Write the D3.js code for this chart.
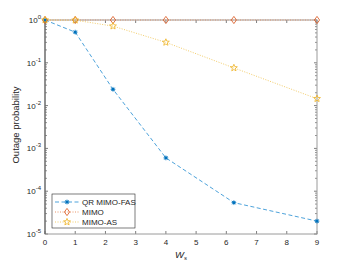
<!DOCTYPE html>
<html>
<head>
<meta charset="utf-8">
<script src="https://cdn.jsdelivr.net/npm/d3@7"></script>
<style>
  body { margin: 0; background: #fff; }
  text { font-family: "Liberation Sans", Arial, sans-serif; fill: #262626; }
</style>
</head>
<body>
<svg id="chart" width="350" height="264"></svg>
<script>
// chart data
const wsValues = [0, 1, 2.25, 4, 6.25, 9];
const qrMimoFas = [1, 0.52, 0.024, 6.0e-4, 5.4e-5, 2.0e-5];
const mimo = [1, 1, 1, 1, 1, 1];
const mimoAs = [1, 0.99, 0.72, 0.30, 0.076, 0.0145];
const xTicks = [0, 1, 2, 3, 4, 5, 6, 7, 8, 9];
const yExponents = [0, -1, -2, -3, -4, -5];
const seriesNames = ['QR MIMO-FAS', 'MIMO', 'MIMO-AS'];

const margin = {left: 45, right: 33, top: 20, bottom: 30};
const width = 350, height = 264;
const iw = width - margin.left - margin.right,
      ih = height - margin.top - margin.bottom;

const svg = d3.select('#chart');
const g = svg.append('g').attr('transform', `translate(${margin.left},${margin.top})`);

const x = d3.scaleLinear().domain([0, 9]).range([0, iw]);
const y = d3.scaleLog().domain([1e-5, 1]).range([ih, 0]);

const axisColor = '#262626';

// minor y ticks (2..9 in each decade)
const minor = [];
for (let e = -5; e < 0; e++) {
    for (let m = 2; m <= 9; m++) minor.push(m * Math.pow(10, e));
}

// ticks, inward, left + right
minor.forEach(v => {
    [[0, 2], [iw, iw - 2]].forEach(([a, b]) => {
        g.append('line').attr('x1', a).attr('x2', b)
            .attr('y1', y(v)).attr('y2', y(v))
            .attr('stroke', axisColor).attr('stroke-width', 0.5);
    });
});
yExponents.forEach(e => {
    const v = Math.pow(10, e);
    [[0, 3], [iw, iw - 3]].forEach(([a, b]) => {
        g.append('line').attr('x1', a).attr('x2', b)
            .attr('y1', y(v)).attr('y2', y(v))
            .attr('stroke', axisColor).attr('stroke-width', 0.6);
    });
    const t = g.append('text').attr('x', -4).attr('y', y(v) + 3)
        .attr('text-anchor', 'end').attr('font-size', 8);
    t.append('tspan').text('10');
    t.append('tspan').attr('dy', -4).attr('font-size', 6).text(e);
});

// x ticks, bottom + top
xTicks.forEach(v => {
    [[ih, ih - 3], [0, 3]].forEach(([a, b]) => {
        g.append('line').attr('x1', x(v)).attr('x2', x(v))
            .attr('y1', a).attr('y2', b)
            .attr('stroke', axisColor).attr('stroke-width', 0.6);
    });
    g.append('text').attr('x', x(v)).attr('y', ih + 11)
        .attr('text-anchor', 'middle').attr('font-size', 8).text(v);
});

// box
g.append('rect').attr('x', 0).attr('y', 0).attr('width', iw).attr('height', ih)
    .attr('fill', 'none').attr('stroke', '#9a9a9a').attr('stroke-width', 1);
g.append('line').attr('x1', 0).attr('x2', 0).attr('y1', 0).attr('y2', ih)
    .attr('stroke', '#555').attr('stroke-width', 1);

// axis labels
const xl = g.append('text').attr('x', iw / 2).attr('y', ih + 24)
    .attr('text-anchor', 'middle').attr('font-size', 9.5)
    .attr('font-family', '"Liberation Serif", serif').attr('font-style', 'italic');
xl.append('tspan').text('W');
xl.append('tspan').attr('dy', 2).attr('font-size', 6).text('s');

g.append('text').attr('transform', `translate(-26,${ih / 2 - 2}) rotate(-90)`)
    .attr('text-anchor', 'middle').attr('font-size', 9.5).text('Outage probability');

// marker drawers
function asterisk(sel, cx, cy, color) {
    const r = 2.4, d = r * 0.72;
    const p = `M${cx - r},${cy}L${cx + r},${cy}M${cx},${cy - r}L${cx},${cy + r}` +
              `M${cx - d},${cy - d}L${cx + d},${cy + d}M${cx - d},${cy + d}L${cx + d},${cy - d}`;
    sel.append('path').attr('d', p).attr('stroke', color).attr('stroke-width', 0.8).attr('fill', 'none');
    sel.append('rect').attr('x', cx - 1.3).attr('y', cy - 1.3).attr('width', 2.6).attr('height', 2.6)
        .attr('fill', color);
}
function diamond(sel, cx, cy, color) {
    sel.append('path').attr('d', `M${cx},${cy - 3.6}L${cx + 2.6},${cy}L${cx},${cy + 3.6}L${cx - 2.6},${cy}Z`)
        .attr('fill', 'none').attr('stroke', color).attr('stroke-width', 0.8);
}
function star(sel, cx, cy, color) {
    const pts = [];
    for (let i = 0; i < 10; i++) {
        const r = i % 2 === 0 ? 3.6 : 1.6;
        const a = -Math.PI / 2 + i * Math.PI / 5;
        pts.push([cx + r * Math.cos(a), cy + r * Math.sin(a)]);
    }
    sel.append('path').attr('d', 'M' + pts.join('L') + 'Z')
        .attr('fill', 'none').attr('stroke', color).attr('stroke-width', 0.8);
}

const series = [
    {name: seriesNames[0], vals: qrMimoFas, color: '#0072BD', lineColor: '#4EA3DB', dash: '4,2.5', marker: asterisk},
    {name: seriesNames[1], vals: mimo, color: '#D95319', lineColor: '#E8946A', dash: '1,1.5', marker: diamond},
    {name: seriesNames[2], vals: mimoAs, color: '#EDB120', lineColor: '#F3CD6A', dash: '1,1.5', marker: star}
];

const line = d3.line().x(d => x(d[0])).y(d => y(d[1]));

series.forEach(s => {
    const pts = wsValues.map((w, i) => [w, s.vals[i]]);
    g.append('path').datum(pts).attr('d', line)
        .attr('fill', 'none').attr('stroke', s.lineColor)
        .attr('stroke-width', 1).attr('stroke-dasharray', s.dash);
});
series.forEach(s => {
    wsValues.forEach((w, i) => s.marker(g, x(w), y(s.vals[i]), s.color));
});

// legend
const lg = svg.append('g').attr('transform', 'translate(52,194)');
lg.append('rect').attr('x', 0).attr('y', 0).attr('width', 83).attr('height', 34)
    .attr('fill', '#fff').attr('stroke', axisColor).attr('stroke-width', 0.6);
series.forEach((s, i) => {
    const cy = 8 + i * 10;
    lg.append('line').attr('x1', 3).attr('x2', 27).attr('y1', cy).attr('y2', cy)
        .attr('stroke', s.lineColor).attr('stroke-width', 1).attr('stroke-dasharray', s.dash);
    s.marker(lg, 15, cy, s.color);
    lg.append('text').attr('x', 30).attr('y', cy + 3).attr('font-size', 8).text(s.name);
});
</script>
</body>
</html>
